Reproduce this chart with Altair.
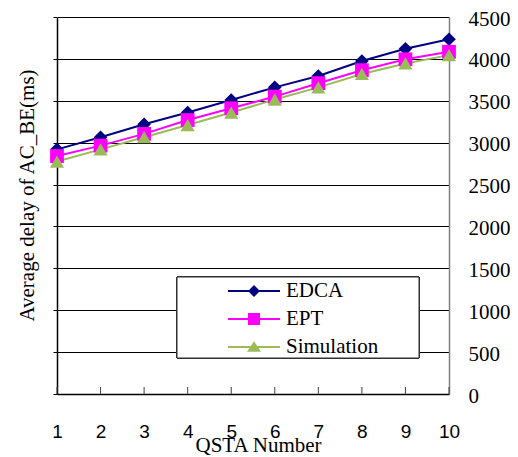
import altair as alt
import pandas as pd

qsta = [1, 2, 3, 4, 5, 6, 7, 8, 9, 10]
edca = [2920, 3065, 3220, 3360, 3510, 3660, 3795, 3975, 4120, 4235]
ept = [2840, 2965, 3105, 3270, 3410, 3550, 3710, 3865, 3995, 4085]
simulation = [2775, 2920, 3065, 3210, 3360, 3515, 3660, 3820, 3945, 4045]
series_names = ["EDCA", "EPT", "Simulation"]
y_ticks = [0, 500, 1000, 1500, 2000, 2500, 3000, 3500, 4000, 4500]

colors = ["#000080", "#FF00FF", "#9BBB59"]
shapes = ["diamond", "square", "triangle-up"]
sizes = [185, 190, 200]
legend_paths = [
    "M-1,-0.04L1,-0.04L1,0.04L-1,0.04ZM-0.23,0L0,-0.23L0.23,0L0,0.23Z",
    "M-1,-0.04L1,-0.04L1,0.04L-1,0.04ZM-0.23,-0.23L0.23,-0.23L0.23,0.23L-0.23,0.23Z",
    "M-1,-0.04L1,-0.04L1,0.04L-1,0.04ZM0,-0.22L0.27,0.18L-0.27,0.18Z",
]
SERIF = "Liberation Serif"
SANS = "Liberation Sans"

rows = []
for name, vals in zip(series_names, [edca, ept, simulation]):
    for q, v in zip(qsta, vals):
        rows.append({"QSTA": q, "delay": v, "series": name})
df = pd.DataFrame(rows)
df_q = pd.DataFrame({"QSTA": qsta})

color_scale = alt.Scale(domain=series_names, range=colors)
x_scale = alt.Scale(domain=[1, 10], nice=False, zero=False)
y_scale = alt.Scale(domain=[0, 4500], nice=False, zero=True)

x_axis = alt.Axis(
    values=qsta, format="d", ticks=False, grid=False, labelFlush=False,
    domainColor="#000000", domainWidth=1.5,
    labelFont=SANS, labelFontSize=19, labelColor="#000000", labelPadding=28, labelAngle=0,
    title="QSTA Number", titleFont=SERIF, titleFontSize=21, titleFontWeight="normal",
    titleColor="#000000", titleX=201, titleY=40,
)
y_left = alt.Axis(
    orient="left", values=y_ticks, labels=False, ticks=True, tickSize=4,
    tickColor="#000000", grid=False, domainColor="#000000", domainWidth=1.5,
    title="Average delay of AC_BE(ms)", titleFont=SERIF, titleFontSize=21,
    titleFontWeight="normal", titleColor="#000000", titleAngle=270,
    titleX=-30, titleY=178, titleBaseline="middle", titleAlign="center",
)
y_right = alt.Axis(
    orient="right", values=y_ticks, format="d", ticks=False, grid=True,
    gridColor="#000000", gridWidth=1, gridOpacity=1,
    domainColor="#808080", domainWidth=1.5,
    labelFont=SERIF, labelFontSize=21, labelColor="#000000", labelPadding=19,
    labelAlign="left", labelBaseline="middle", labelOffset=2, title=None,
)


def line_layer(name, color, axis):
    return alt.Chart(df).transform_filter(alt.datum.series == name).mark_line(
        strokeWidth=2, color=color
    ).encode(
        x=alt.X("QSTA:Q", scale=x_scale, axis=x_axis),
        y=alt.Y("delay:Q", scale=y_scale, axis=axis),
    )


def point_layer(name, color, shape, size, axis):
    return alt.Chart(df).transform_filter(alt.datum.series == name).mark_point(
        filled=True, opacity=1, color=color, shape=shape, size=size
    ).encode(
        x=alt.X("QSTA:Q", scale=x_scale, axis=x_axis),
        y=alt.Y("delay:Q", scale=y_scale, axis=axis),
    )


line_layers = [
    line_layer(n, c, y_left if i == 0 else None)
    for i, (n, c) in enumerate(zip(series_names, colors))
]
point_layers = [
    point_layer(n, c, s, z, y_right if i == 0 else None)
    for i, (n, c, s, z) in enumerate(zip(series_names, colors, shapes, sizes))
]

ticks = alt.Chart(df_q).mark_rule(color="#404040", strokeWidth=1).encode(
    x=alt.X("QSTA:Q", scale=x_scale, axis=x_axis),
    y=alt.value(370), y2=alt.value(377),
)

box = alt.Chart(df_q).mark_rect(fill="white", stroke="#303030", strokeWidth=1).encode(
    x=alt.value(120), x2=alt.value(362), y=alt.value(260), y2=alt.value(341)
)

legend_obj = alt.Legend(
    title=None, orient="none", legendX=171, legendY=260, padding=0,
    rowPadding=0, clipHeight=28, labelOffset=6, symbolSize=2704,
    symbolStrokeWidth=0, labelFont=SERIF, labelFontSize=21, labelColor="#000000",
    labelBaseline="middle",
)
legend_layer = alt.Chart(df).transform_filter(alt.datum.QSTA > 100).mark_point(
    filled=True, opacity=1
).encode(
    color=alt.Color("series:N", scale=color_scale, legend=legend_obj),
    shape=alt.Shape("series:N", scale=alt.Scale(domain=series_names, range=legend_paths), legend=legend_obj),
)

chart = alt.layer(*line_layers, ticks, box, *point_layers, legend_layer).resolve_axis(
    y="independent"
).properties(
    width=392, height=377,
    autosize=alt.AutoSizeParams(type="none"),
    padding={"left": 57, "top": 17, "right": 69, "bottom": 63},
    background="white",
).configure_view(
    stroke=None
).configure_legend(
    labelFont=SERIF, labelFontSize=21, labelColor="#000000"
).configure_axisX(
    labelFont=SANS, labelFontSize=19
)

chart.save("out.html", embed_options={"renderer": "svg", "actions": False})
